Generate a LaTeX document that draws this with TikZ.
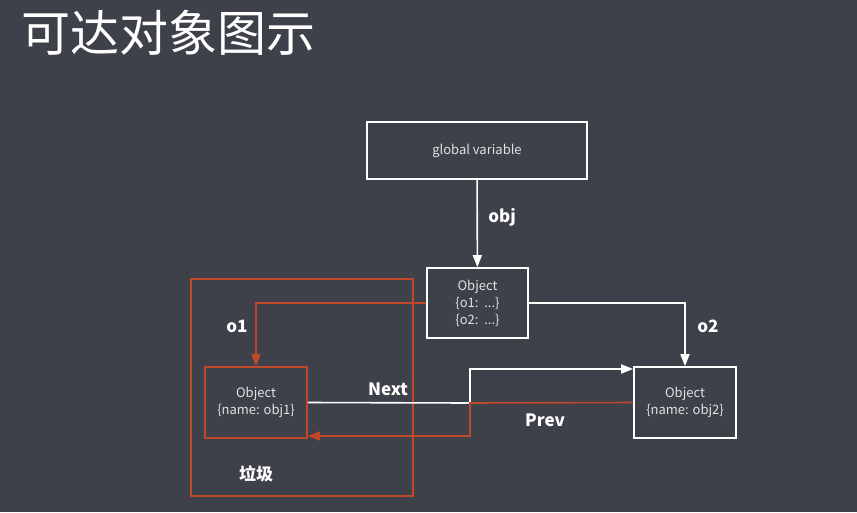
\documentclass[tikz,border=0pt]{standalone}
\usepackage{fontspec}
\setmainfont{Noto Sans CJK SC}
\newfontfamily\cjk{Noto Sans CJK SC}
\usetikzlibrary{arrows.meta,calc}
\definecolor{bg}{RGB}{62,65,73}
\definecolor{redc}{RGB}{192,72,40}
\definecolor{txt}{RGB}{225,225,225}
\tikzset{
  box/.style={draw=white, line width=1.6pt, minimum width=#1, inner sep=0pt, align=center, text=txt, font=\fontsize{13}{17}\selectfont},
  conn/.style={line width=1.6pt, -{Triangle[length=12pt,width=9pt]}},
  lbl/.style={text=white, font=\fontsize{17}{20}\selectfont\bfseries},
}
\begin{document}
\begin{tikzpicture}[x=1pt,y=-1pt]
\fill[bg] (0,0) rectangle (857,512);
\useasboundingbox (0,0) rectangle (857,512);
\node[anchor=west, text=white, inner sep=0pt, font=\fontsize{49}{54}\selectfont] (title) at (21,33) {可达对象图示};
\node[box=220pt, minimum height=57pt] (gv) at (477,150.5) {global variable};
\node[box=101pt, minimum height=70pt] (obj) at (477.5,303) {Object\\\{o1:\ \ ...\}\\\{o2:\ \ ...\}};
\node[box=102pt, minimum height=71pt, draw=redc] (o1) at (256,402.5) {Object\\\{name: obj1\}};
\node[box=102pt, minimum height=71pt] (o2) at (685,402.5) {Object\\\{name: obj2\}};
\node[draw=redc, line width=1.6pt, minimum width=222pt, minimum height=217pt, inner sep=0pt] (garbage) at (302,387.5) {};
\draw[conn, white] (gv) -- (obj);
\node[lbl] (lobj) at (502,217) {obj};
\draw[conn, redc] (obj.west) -| (o1.north);
\node[lbl] (lo1) at (237,326) {o1};
\draw[conn, white] (obj.east) -| (o2.north);
\node[lbl] (lo2) at (708,326) {o2};
\coordinate (mid) at (470,403);
\draw[conn, white] (o1.east) -- (mid) |- ($(o2.west)+(0,-33.5)$);
\node[lbl] (lnext) at (388,389) {Next};
\draw[conn, redc] (o2.west) -- (mid) |- ($(o1.east)+(0,33.5)$);
\node[lbl] (lprev) at (545,420) {Prev};
\node[lbl] (lgarb) at (256,474) {垃圾};
\end{tikzpicture}
\end{document}
